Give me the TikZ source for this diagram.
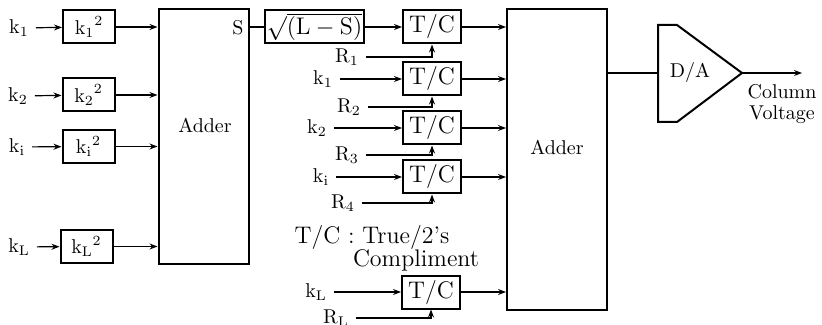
\documentclass[tikz,border=0pt]{standalone}
\usetikzlibrary{arrows.meta}
\begin{document}
\begin{tikzpicture}[x=0.5pt, y=-0.5pt,
        blk/.style={draw, line width=1pt, minimum height=16.5pt, inner sep=1pt},
        tcbox/.style={blk, minimum width=29pt, font=\large},
        arrow/.style={-{Stealth[length=4pt, width=3pt]}, line width=0.6pt},
        wire/.style={line width=0.6pt}
    ]
        \useasboundingbox (0,0) rectangle (822,325);

        % Squarers
        \node (k1) at (19,28) {$\mathrm{k}_1$};
        \node (k2) at (18,96) {$\mathrm{k}_2$};
        \node (ki) at (17,147) {$\mathrm{k}_\mathrm{i}$};
        \node (kL) at (19,247) {$\mathrm{k}_\mathrm{L}$};
        \node[blk, minimum width=26pt] (sq1) at (89,27) {${\mathrm{k}_1}^{2}$};
        \node[blk, minimum width=26pt] (sq2) at (88.5,95) {${\mathrm{k}_2}^{2}$};
        \node[blk, minimum width=26pt] (sq3) at (88.5,146.5) {${\mathrm{k}_\mathrm{i}}^{2}$};
        \node[blk, minimum width=26pt] (sq4) at (86.5,246.5) {${\mathrm{k}_\mathrm{L}}^{2}$};

        % First adder
        \node[blk, minimum width=45pt, minimum height=127.5pt] (add1) at (203.5,136.5) {};
        \node (add1txt) at (205,125) {Adder};
        \node (s) at (238,28) {S};

        \draw[arrow] (k1) -- (sq1);
        \draw[arrow] (k2) -- (sq2);
        \draw[arrow] (ki) -- (sq3);
        \draw[arrow] (kL) -- (sq4);
        \draw[arrow] (sq1) -- (sq1 -| add1.west);
        \draw[arrow] (sq2) -- (sq2 -| add1.west);
        \draw[arrow] (sq3) -- (sq3 -| add1.west);
        \draw[arrow] (sq4) -- (sq4 -| add1.west);

        % Square root and T/C stages
        \node[blk, minimum width=48.5pt, inner ysep=0pt, font=\large]
            (sqrt) at (314.5,27) {$\surd\overline{(\mathrm{L}-\mathrm{S})}$};
        \node[tcbox] (tc1) at (432,27) {T/C};
        \node[tcbox] (tc2) at (432,79) {T/C};
        \node[tcbox] (tc3) at (432,128) {T/C};
        \node[tcbox] (tc4) at (432,177) {T/C};
        \node[tcbox] (tc5) at (431,292) {T/C};

        \node (r1) at (347,57) {$\mathrm{R}_1$};
        \node (r2) at (349,107) {$\mathrm{R}_2$};
        \node (r3) at (347,155) {$\mathrm{R}_3$};
        \node (r4) at (343,203) {$\mathrm{R}_4$};
        \node (rL) at (336,318) {$\mathrm{R}_\mathrm{L}$};
        \node (kb1) at (323,79) {$\mathrm{k}_1$};
        \node (kb2) at (317,128) {$\mathrm{k}_2$};
        \node (kbi) at (321,177) {$\mathrm{k}_\mathrm{i}$};
        \node (kbL) at (316,292) {$\mathrm{k}_\mathrm{L}$};

        \draw[wire] (sqrt -| add1.east) -- (sqrt);
        \draw[arrow] (sqrt) -- (tc1);
        \draw[arrow] (kb1) -- (tc2);
        \draw[arrow] (kb2) -- (tc3);
        \draw[arrow] (kbi) -- (tc4);
        \draw[arrow] (kbL) -- (tc5);
        \draw[arrow] (r1) -| (tc1.south);
        \draw[arrow] (r2) -| (tc2.south);
        \draw[arrow] (r3) -| (tc3.south);
        \draw[arrow] (r4) -| (tc4.south);
        \draw[arrow] (rL) -| (tc5.south);

        \node[font=\large] (note1) at (372,237) {T/C : True/2\textquoteright s};
        \node[font=\large] (note2) at (416,260) {Compliment};

        % Second adder
        \node[blk, minimum width=50pt, minimum height=150.5pt] (add2) at (557,159.5) {};
        \node (add2txt) at (557,147) {Adder};

        \draw[arrow] (tc1) -- (tc1 -| add2.west);
        \draw[arrow] (tc2) -- (tc2 -| add2.west);
        \draw[arrow] (tc3) -- (tc3 -| add2.west);
        \draw[arrow] (tc4) -- (tc4 -| add2.west);
        \draw[arrow] (tc5) -- (tc5 -| add2.west);

        % D/A converter
        \draw[line width=1pt] (658,25) -- (677,25) -- (742,73) -- (677,122) -- (658,122) -- cycle;
        \node (da) at (690,73) {D/A};
        \coordinate (dain) at (658,73);
        \coordinate (datip) at (742,73);
        \coordinate (out) at (802,73);
        \draw[wire] (dain -| add2.east) -- (dain);
        \draw[arrow] (datip) -- (out);
        \node[align=center] (colv) at (782,104) {Column\\[-1.5pt]Voltage};
    \end{tikzpicture}
\end{document}
